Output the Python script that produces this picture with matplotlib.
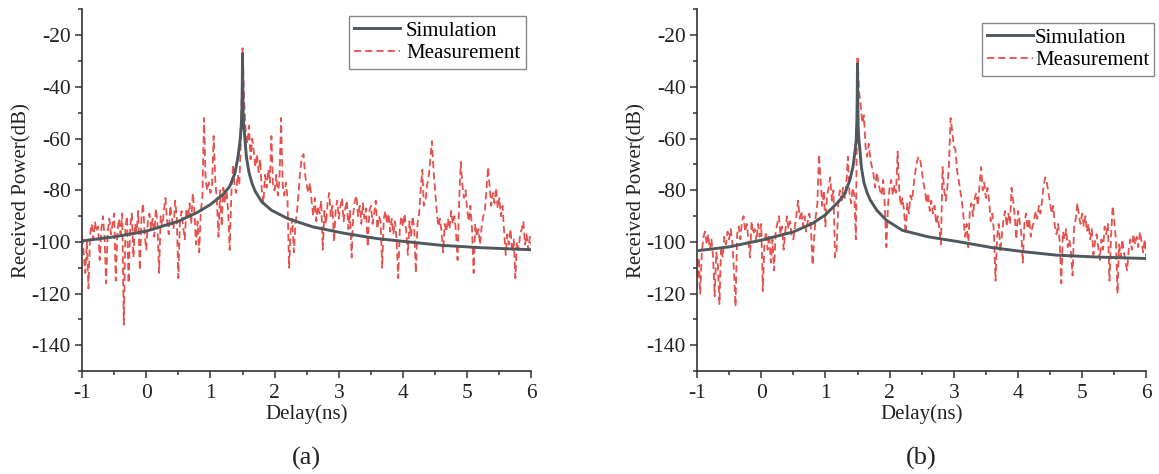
import numpy as np
import matplotlib
matplotlib.use('Agg')
import matplotlib.pyplot as plt

plt.rcParams['font.family'] = ['Liberation Serif', 'DejaVu Serif']
plt.rcParams['font.size'] = 15
plt.rcParams['axes.unicode_minus'] = False

# measurement delay grid (ns), 0.025 ns step
delay = np.linspace(-1, 6, 281)

# panel (a) measured received power (dB)
meas_a = [
    -98, -104, -112, -100, -118, -97, -93, -99, -92, -96,
    -94, -107, -95, -90, -98, -116, -96, -91, -97, -93,
    -89, -115, -96, -91, -97, -89, -132, -95, -90, -116,
    -94, -89, -106, -93, -96, -88, -111, -91, -85, -97,
    -103, -92, -89, -95, -91, -98, -87, -93, -112, -90,
    -94, -88, -83, -92, -97, -86, -91, -95, -84, -90,
    -114, -92, -88, -94, -99, -87, -91, -85, -93, -81,
    -88, -101, -92, -104, -88, -83, -52, -76, -80, -77,
    -81, -78, -59, -76, -84, -98, -80, -94, -79, -85,
    -80, -88, -103, -82, -70, -78, -81, -74, -78, -60,
    -25, -45, -58, -62, -55, -68, -60, -65, -71, -66,
    -73, -68, -80, -85, -74, -79, -72, -77, -59, -78,
    -80, -74, -82, -76, -52, -78, -82, -77, -83, -110,
    -96, -91, -104, -93, -88, -80, -72, -67, -66, -74,
    -78, -81, -77, -84, -90, -83, -92, -86, -89, -84,
    -103, -88, -93, -85, -81, -90, -86, -100, -88, -84,
    -91, -86, -83, -92, -87, -84, -95, -88, -106, -89,
    -84, -82, -90, -86, -93, -85, -91, -87, -102, -88,
    -86, -93, -89, -84, -95, -90, -92, -110, -91, -88,
    -93, -89, -96, -91, -97, -92, -99, -114, -95, -90,
    -94, -89, -96, -105, -92, -98, -90, -95, -112, -93,
    -89, -80, -72, -86, -84, -78, -75, -68, -61, -72,
    -80, -88, -94, -91, -96, -104, -93, -96, -91, -95,
    -88, -93, -90, -96, -107, -84, -69, -78, -83, -80,
    -88, -92, -86, -95, -112, -93, -98, -95, -101, -94,
    -90, -88, -80, -71, -79, -86, -81, -85, -79, -87,
    -83, -90, -86, -96, -105, -97, -101, -95, -104, -99,
    -114, -100, -103, -97, -95, -92, -101, -97, -103, -98,
    -101,
]

# panel (b) measured received power (dB)
meas_b = [
    -118, -106, -120, -104, -98, -96, -101, -97, -103, -99,
    -106, -121, -104, -109, -124, -102, -106, -98, -101, -96,
    -99, -95, -100, -111, -125, -97, -94, -99, -92, -90,
    -96, -93, -99, -106, -92, -97, -95, -100, -93, -98,
    -93, -119, -101, -96, -103, -97, -108, -99, -111, -96,
    -93, -90, -97, -94, -103, -96, -90, -95, -92, -98,
    -99, -94, -89, -84, -91, -88, -94, -90, -96, -92,
    -89, -95, -109, -98, -90, -85, -66, -76, -86, -80,
    -94, -82, -79, -75, -84, -80, -106, -103, -85, -80,
    -84, -79, -83, -78, -67, -81, -85, -79, -82, -99,
    -28, -42, -47, -54, -51, -63, -67, -62, -68, -71,
    -74, -79, -73, -77, -80, -82, -76, -86, -102, -86,
    -79, -76, -82, -78, -81, -65, -80, -86, -83, -88,
    -97, -85, -89, -82, -84, -78, -73, -69, -67, -68,
    -72, -77, -80, -85, -81, -88, -84, -89, -86, -93,
    -90, -95, -101, -71, -80, -84, -79, -70, -52, -57,
    -63, -64, -72, -76, -80, -84, -90, -98, -93, -102,
    -88, -85, -90, -83, -81, -86, -78, -71, -80, -77,
    -83, -79, -84, -92, -89, -96, -115, -98, -93, -104,
    -97, -91, -88, -94, -89, -93, -79, -84, -90, -99,
    -88, -92, -96, -108, -93, -89, -95, -91, -98, -94,
    -92, -88, -91, -86, -89, -84, -78, -75, -77, -81,
    -85, -89, -86, -94, -97, -93, -100, -116, -96, -99,
    -95, -102, -99, -104, -113, -94, -91, -85, -90, -93,
    -89, -94, -90, -96, -93, -99, -95, -105, -100, -97,
    -102, -107, -99, -103, -94, -97, -93, -115, -98, -86,
    -92, -99, -120, -101, -106, -99, -104, -108, -111, -103,
    -99, -103, -97, -101, -98, -102, -96, -100, -104, -99,
    -107,
]

# simulation curves
sim_x = [-1, -0.5, 0, 0.5, 0.8, 1.0, 1.2, 1.3, 1.38, 1.43, 1.46, 1.48, 1.49,
         1.495, 1.5, 1.505, 1.51, 1.52, 1.54, 1.56, 1.6, 1.65, 1.7, 1.8, 1.95,
         2.2, 2.6, 3.1, 3.6, 4.1, 4.6, 5.2, 6.0]
sim_a = [-99.6, -98, -95.8, -92, -88.5, -85.5, -81.5, -78.5, -73.5, -67, -61,
         -55, -49, -42, -27, -43, -50, -55, -61, -67, -73, -77.5, -80.5, -84.5,
         -87.7, -90.9, -94.2, -96.7, -98.7, -100, -101.3, -102.2, -103]
sim_b = [-103.4, -101.9, -99.3, -96.1, -92.8, -89.5, -84.5, -81.5, -76.1,
         -70.9, -65, -60.6, -53, -45, -31, -46, -55, -60, -65, -71, -77,
         -81, -83.8, -87.7, -91.6, -95.5, -98, -100, -102.2, -103.8, -105.1,
         -105.8, -106.4]

panels = [('(a)', sim_a, meas_a, 0.0708, (0.987, 0.982), 0.3),
          ('(b)', sim_b, meas_b, 0.6014, (1.018, 0.963), 0.1)]

fig = plt.figure(figsize=(11.59, 4.74), dpi=100)

for tag, sim, meas, left, leg_pos, txtpad in panels:
    ax = fig.add_axes([left, 0.217, 0.3877, 0.763])
    ax.plot(delay, meas, color='#e5524e', lw=1.3, dashes=(4, 2.2),
            label='Measurement', zorder=2)
    ax.plot(sim_x, sim, color='#4f585d', lw=2.1, label='Simulation', zorder=3)

    ax.set_xlim(-1, 6)
    ax.set_ylim(-150, -10)
    ax.set_xticks(range(-1, 7))
    ax.set_xticks(np.arange(-0.5, 6, 1), minor=True)
    ax.set_yticks(range(-140, -10, 20))
    ax.set_yticks(range(-150, -5, 10), minor=True)
    ax.spines['top'].set_visible(False)
    ax.spines['right'].set_visible(False)
    for s in ['left', 'bottom']:
        ax.spines[s].set_linewidth(1.2)
        ax.spines[s].set_color('#333333')
    ax.tick_params(which='major', length=5, width=1.1, color='#333333',
                   labelsize=15.5, labelcolor='#222222')
    ax.tick_params(which='minor', length=3, width=1.1, color='#333333')
    ax.tick_params(axis='x', pad=4)
    ax.tick_params(axis='y', pad=3)
    ax.set_xlabel('Delay(ns)', fontsize=15, color='#222222', labelpad=1)
    ax.set_ylabel('Received Power(dB)', fontsize=15, color='#222222', labelpad=0)

    h, l = ax.get_legend_handles_labels()
    leg = ax.legend(h[::-1], l[::-1], loc='upper right', bbox_to_anchor=leg_pos,
                    borderaxespad=0, fancybox=False, framealpha=1,
                    edgecolor='#888888', fontsize=15, handlelength=2.2,
                    handletextpad=txtpad, labelspacing=0.15, borderpad=0.25)
    leg.get_frame().set_linewidth(1.0)

    bb = ax.get_position()
    fig.text(bb.x0 + bb.width / 2, 0.032, tag, ha='center', va='center',
             fontsize=19, color='#222222')

fig.savefig('out.png', dpi=100)
